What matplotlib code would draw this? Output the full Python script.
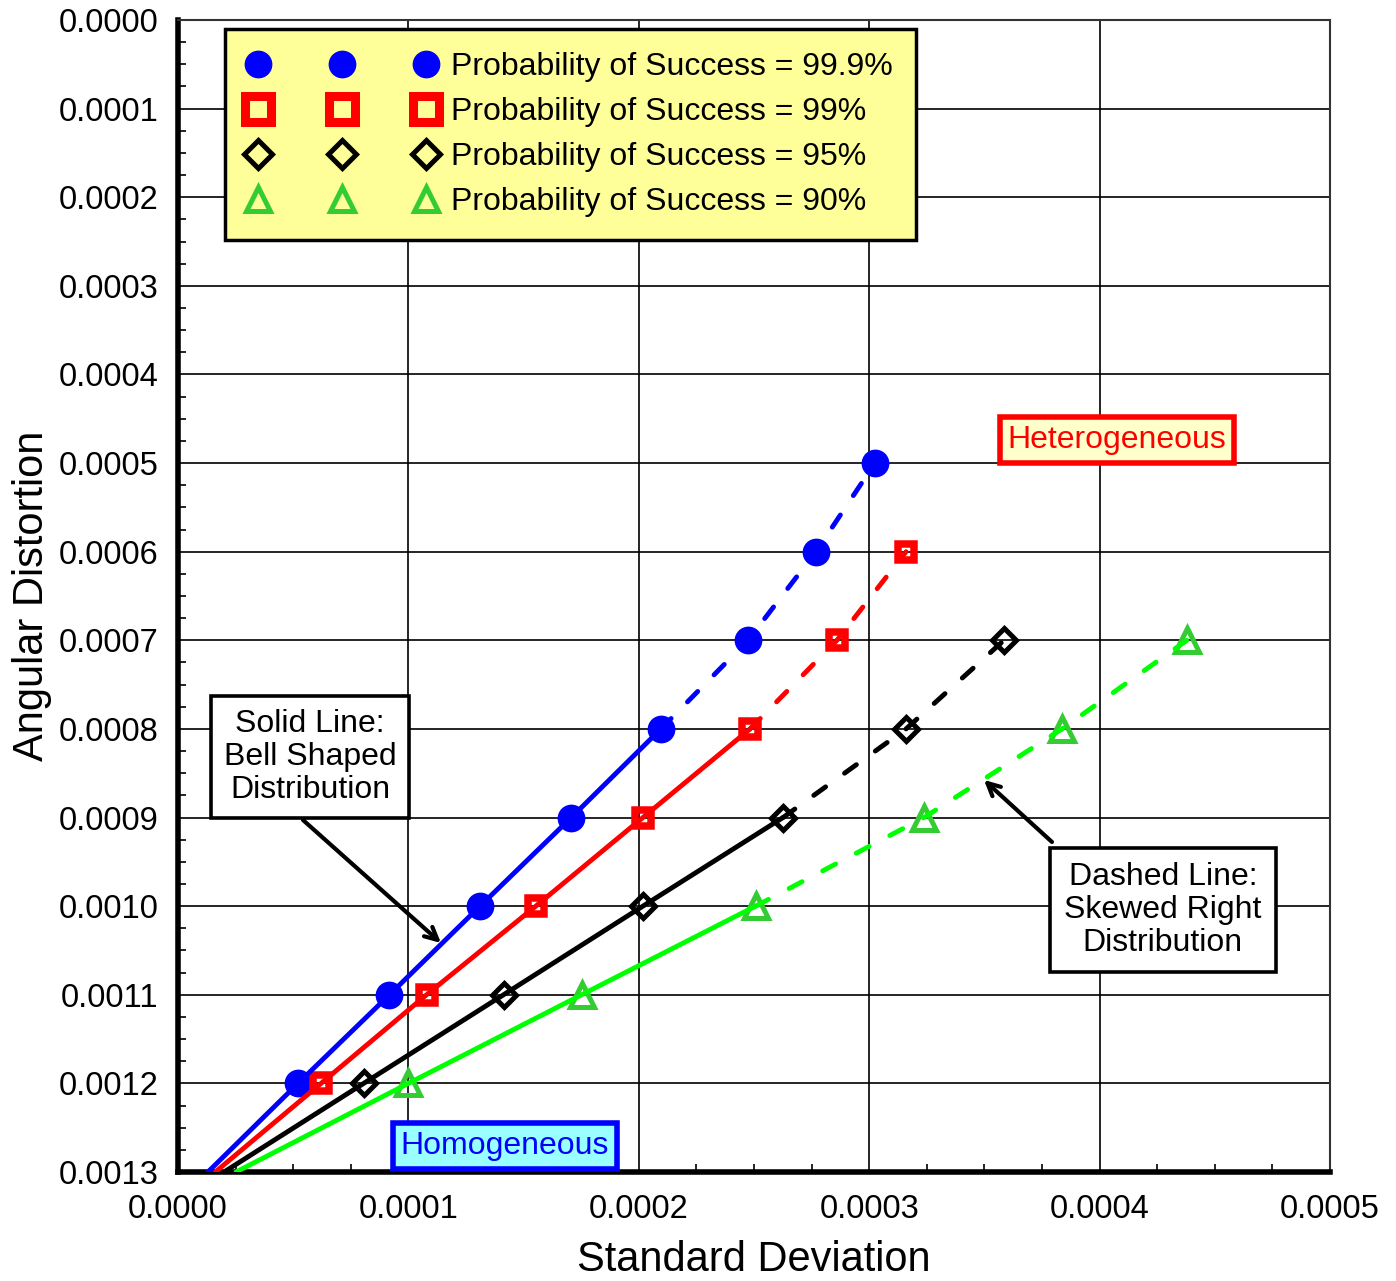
import matplotlib
matplotlib.use('Agg')
import matplotlib.pyplot as plt
from matplotlib.lines import Line2D
from matplotlib.ticker import MultipleLocator, FormatStrFormatter

plt.rcParams['font.family'] = ['Liberation Sans', 'DejaVu Sans']

# angular distortion levels (first value = where the line meets the axis)
ad_blue = [0.0013, 0.0012, 0.0011, 0.0010, 0.0009, 0.0008, 0.0007, 0.0006, 0.0005]
ad_red = [0.0013, 0.0012, 0.0011, 0.0010, 0.0009, 0.0008, 0.0007, 0.0006]
ad_black = [0.0013, 0.0012, 0.0011, 0.0010, 0.0009, 0.0008, 0.0007]
ad_green = [0.0013, 0.0012, 0.0011, 0.0010, 0.0009, 0.0008, 0.0007]

# standard deviation
sd_blue = [0.0000130, 0.0000521, 0.0000918, 0.0001311, 0.0001707,
           0.0002096, 0.0002474, 0.0002769, 0.0003025]
sd_red = [0.0000162, 0.0000621, 0.0001079, 0.0001553, 0.0002018,
          0.0002483, 0.0002860, 0.0003160]
sd_black = [0.0000200, 0.0000806, 0.0001413, 0.0002018, 0.0002626,
            0.0003160, 0.0003585]
sd_green = [0.0000252, 0.0001000, 0.0001752, 0.0002507, 0.0003238,
            0.0003837, 0.0004379]

# last angular distortion of the bell shaped (solid) part
bell_end = [0.0008, 0.0008, 0.0009, 0.0010]

labels = ['Probability of Success = 99.9%', 'Probability of Success = 99%',
          'Probability of Success = 95%', 'Probability of Success = 90%']

series = [
    (sd_blue, ad_blue, '#0000FF', '#0000FF',
     dict(marker='o', markersize=20, markerfacecolor='#0000FF', markeredgewidth=0)),
    (sd_red, ad_red, '#FF0000', '#FF0000',
     dict(marker='s', markersize=11.5, markerfacecolor='none', markeredgewidth=5.4)),
    (sd_black, ad_black, '#000000', '#000000',
     dict(marker='D', markersize=12.5, markerfacecolor='none', markeredgewidth=3.6)),
    (sd_green, ad_green, '#00FF00', '#33CC33',
     dict(marker='^', markersize=17, markerfacecolor='none', markeredgewidth=3.6)),
]

fig = plt.figure(figsize=(13.96, 12.81), dpi=100)
ax = fig.add_axes([0.1275, 0.0851, 0.8252, 0.8993])

for (sd, ad, lc, mc, mk), end in zip(series, bell_end):
    k = ad.index(end)
    ax.plot(sd[1:], ad[1:], linestyle='none', markeredgecolor=mc, zorder=3, **mk)
    ax.plot(sd[:k + 1], ad[:k + 1], color=lc, lw=3.5, solid_capstyle='round', zorder=4)
    ax.plot(sd[k:], ad[k:], color=lc, lw=3.5, linestyle=(0, (3, 4.8)),
            dash_capstyle='round', zorder=4)

ax.set_xlim(0, 0.0005)
ax.set_ylim(0.0013, 0)
ax.xaxis.set_major_locator(MultipleLocator(0.0001))
ax.yaxis.set_major_locator(MultipleLocator(0.0001))
ax.xaxis.set_minor_locator(MultipleLocator(0.000025))
ax.yaxis.set_minor_locator(MultipleLocator(0.000025))
ax.xaxis.set_major_formatter(FormatStrFormatter('%.4f'))
ax.yaxis.set_major_formatter(FormatStrFormatter('%.4f'))
ax.tick_params(which='both', direction='in', top=False, right=False, labelsize=23.5)
ax.tick_params(which='major', length=0)
ax.tick_params(axis='y', which='major', pad=14)
ax.tick_params(axis='x', which='major', pad=16)
ax.tick_params(which='minor', length=6, width=1.2)
ax.grid(True, which='major', color='black', lw=1.2)

for side in ['left', 'bottom']:
    ax.spines[side].set_linewidth(4)
    ax.spines[side].set_color('black')
for side in ['top', 'right']:
    ax.spines[side].set_linewidth(1.5)
    ax.spines[side].set_color('#333333')

ax.set_xlabel('Standard Deviation', fontsize=30, labelpad=11)
ax.set_ylabel('Angular Distortion', fontsize=30, labelpad=5)

# legend with three markers per entry
handles = [
    Line2D([], [], linestyle='none', marker='o', markersize=20, color='#0000FF',
           markeredgewidth=0),
    Line2D([], [], linestyle='none', marker='s', markersize=18.7, color='#FF0000',
           markerfacecolor='none', markeredgewidth=6.5),
    Line2D([], [], linestyle='none', marker='D', markersize=14.5, color='black',
           markerfacecolor='none', markeredgewidth=3.6),
    Line2D([], [], linestyle='none', marker='^', markersize=17, color='#33CC33',
           markerfacecolor='none', markeredgewidth=3.6),
]
leg = ax.legend(handles, labels, loc='upper left', bbox_to_anchor=(0.0410, 0.992),
                borderaxespad=0, numpoints=3, handlelength=5.85, handletextpad=0.5,
                fontsize=23, labelspacing=0.47, borderpad=0.72, fancybox=False,
                framealpha=1, facecolor='#FFFF99', edgecolor='black')
leg.get_frame().set_linewidth(2.5)
leg.set_zorder(10)

ax.text(0.0004076, 0.000474, 'Heterogeneous', fontsize=23, color='#FF0000',
        ha='center', va='center', zorder=10,
        bbox=dict(boxstyle='square,pad=0.25', fc='#FFFFCC', ec='#FF0000', lw=4))
ax.text(0.0001419, 0.0012707, 'Homogeneous', fontsize=23, color='#0000FF',
        ha='center', va='center', zorder=10,
        bbox=dict(boxstyle='square,pad=0.25', fc='#99FFFF', ec='#0000FF', lw=4))

ax.text(0.0000573, 0.0008317, 'Solid Line:\nBell Shaped\nDistribution', fontsize=23,
        ha='center', va='center', linespacing=1.15, zorder=10,
        bbox=dict(boxstyle='square,pad=0.4', fc='white', ec='black', lw=2.6))
ax.annotate('', xy=(0.00011415, 0.0010416), xytext=(0.00005425, 0.00090278),
            arrowprops=dict(arrowstyle='->,head_length=0.9,head_width=0.45',
                            color='black', lw=3, shrinkA=0, shrinkB=0), zorder=10)

ax.text(0.0004275, 0.0010043, 'Dashed Line:\nSkewed Right\nDistribution', fontsize=23,
        ha='center', va='center', linespacing=1.12, zorder=10,
        bbox=dict(boxstyle='square,pad=0.45', fc='white', ec='black', lw=2.6))
ax.annotate('', xy=(0.00034983, 0.0008576), xytext=(0.00037934, 0.0009276),
            arrowprops=dict(arrowstyle='->,head_length=0.9,head_width=0.45',
                            color='black', lw=3, shrinkA=0, shrinkB=0), zorder=10)

fig.savefig('out.png', dpi=100)
